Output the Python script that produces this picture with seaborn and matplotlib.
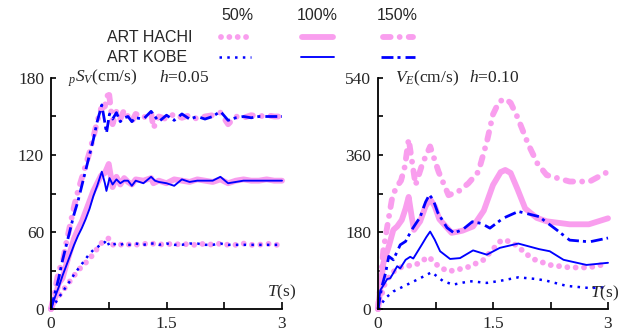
import numpy as np
import pandas as pd
import seaborn as sns
import matplotlib
matplotlib.use("Agg")
import matplotlib.pyplot as plt
from matplotlib.lines import Line2D
from matplotlib.ticker import MultipleLocator

# ---------------- data ----------------
# Left panel: pSv (cm/s), h=0.05
T_LK = [0, 0.05, 0.1, 0.15, 0.2, 0.25, 0.3, 0.35, 0.4, 0.45, 0.5, 0.55, 0.6, 0.66, 0.7, 0.72,
        0.76, 0.8, 0.85, 0.9, 0.95, 1.0, 1.05, 1.1, 1.2, 1.3, 1.35, 1.4, 1.5, 1.6, 1.7, 1.8,
        1.9, 2.0, 2.1, 2.2, 2.3, 2.4, 2.5, 2.6, 2.7, 2.8, 2.9, 3.0]
SV_KOBE_150 = [0, 12, 24, 38, 50, 62, 74, 84, 96, 108, 120, 132, 146, 159, 145, 137, 152, 148, 153, 146,
               149, 150, 146, 149, 148, 154, 150, 146, 151, 147, 152, 148, 150, 148, 150, 154, 147, 149,
               150, 149, 150, 150, 150, 150]
SV_KOBE_100 = [0, 9, 17, 26, 34, 42, 50, 57, 63, 70, 78, 88, 96, 107, 98, 92, 102, 97, 101, 98,
               100, 100, 96, 100, 98, 103, 100, 99, 98, 96, 101, 99, 100, 100, 100, 103, 98, 99,
               100, 100, 100, 100, 100, 100]
SV_KOBE_50 = [0, 4, 9, 13, 18, 22, 27, 31, 35, 39, 43, 46, 48, 51, 52, 54, 49, 50, 51, 50,
              51, 50, 50, 51, 50, 51, 51, 50, 51, 50, 50, 51, 51, 50, 50, 51, 50, 50,
              50, 50, 50, 50, 50, 50]

T_LH = [0, 0.05, 0.1, 0.15, 0.2, 0.25, 0.3, 0.35, 0.4, 0.45, 0.5, 0.55, 0.6, 0.65, 0.7, 0.75,
        0.8, 0.85, 0.9, 0.95, 1.0, 1.05, 1.1, 1.2, 1.3, 1.33, 1.4, 1.5, 1.6, 1.7, 1.8, 1.9,
        2.0, 2.1, 2.2, 2.3, 2.4, 2.5, 2.6, 2.7, 2.8, 2.9, 3.0]
SV_HACHI_150 = [0, 14, 30, 36, 52, 66, 80, 92, 102, 112, 122, 134, 146, 156, 158, 170, 144, 154, 148, 155,
                150, 146, 152, 149, 153, 141, 150, 148, 152, 149, 151, 148, 150, 151, 153, 144, 150, 149,
                151, 150, 151, 150, 150]
SV_HACHI_100 = [0, 8, 20, 24, 35, 45, 55, 62, 68, 76, 84, 92, 98, 104, 106, 113, 95, 103, 97, 102,
                99, 97, 101, 100, 102, 98, 100, 98, 101, 100, 99, 101, 100, 99, 101, 98, 100, 101,
                100, 100, 101, 100, 100]
SV_HACHI_50 = [0, 6, 10, 14, 18, 22, 26, 30, 33, 36, 39, 43, 47, 51, 54, 55, 50, 51, 50, 51,
               50, 51, 50, 51, 50, 51, 50, 51, 50, 51, 50, 50, 51, 50, 51, 50, 50, 51,
               50, 50, 51, 50, 50]

# Right panel: VE (cm/s), h=0.10
T_RK150 = [0, 0.05, 0.1, 0.14, 0.2, 0.29, 0.36, 0.44, 0.55, 0.62, 0.67, 0.72, 0.78, 0.9, 0.99, 1.1,
           1.23, 1.35, 1.46, 1.63, 1.83, 2.1, 2.33, 2.5, 2.76, 3.0]
VE_KOBE_150 = [0, 52, 85, 123, 115, 150, 158, 185, 215, 250, 267, 255, 225, 190, 178, 185,
               204, 200, 189, 212, 228, 216, 185, 161, 157, 166]
T_RK100 = [0, 0.03, 0.08, 0.12, 0.16, 0.2, 0.25, 0.29, 0.36, 0.42, 0.46, 0.57, 0.63, 0.68, 0.74,
           0.81, 0.94, 1.07, 1.24, 1.42, 1.59, 1.83, 2.1, 2.24, 2.42, 2.72, 3.0]
VE_KOBE_100 = [0, 44, 58, 70, 72, 84, 100, 95, 115, 122, 118, 150, 168, 181, 162,
               135, 117, 119, 137, 127, 143, 153, 140, 135, 115, 103, 108]
T_RK50 = [0, 0.1, 0.2, 0.38, 0.55, 0.7, 0.85, 0.98, 1.2, 1.42, 1.6, 1.83, 2.07, 2.2, 2.46, 2.76, 3.0]
VE_KOBE_50 = [0, 26, 41, 57, 72, 86, 65, 57, 65, 61, 66, 74, 70, 66, 54, 49, 51]

T_RH150 = [0, 0.07, 0.12, 0.18, 0.23, 0.3, 0.35, 0.4, 0.49, 0.58, 0.68, 0.79, 0.92, 1.05, 1.18,
           1.31, 1.42, 1.5, 1.58, 1.66, 1.73, 1.82, 1.96, 2.08, 2.2, 2.5, 2.76, 3.0]
VE_HACHI_150 = [0, 138, 192, 255, 282, 300, 333, 397, 290, 340, 380, 321, 266, 275, 294,
                321, 391, 455, 485, 491, 482, 448, 385, 340, 313, 298, 298, 321]
T_RH100 = [0, 0.07, 0.14, 0.2, 0.25, 0.31, 0.36, 0.4, 0.44, 0.47, 0.55, 0.62, 0.68, 0.74, 0.8, 0.96,
           1.1, 1.24, 1.38, 1.5, 1.6, 1.66, 1.73, 1.82, 1.92, 2.07, 2.2, 2.5, 2.75, 3.0]
VE_HACHI_100 = [0, 107, 146, 185, 193, 208, 235, 262, 215, 185, 205, 240, 257, 240, 210, 178,
                183, 193, 230, 290, 320, 325, 318, 280, 235, 213, 205, 198, 198, 212]
T_RH50 = [0, 0.08, 0.16, 0.25, 0.35, 0.49, 0.66, 0.8, 0.92, 1.01, 1.16, 1.37, 1.5, 1.61, 1.72,
          1.83, 1.92, 2.05, 2.24, 2.5, 2.75, 3.0]
VE_HACHI_50 = [0, 55, 80, 95, 100, 103, 122, 98, 88, 91, 97, 114, 140, 161, 158,
               146, 130, 115, 103, 97, 97, 106]

levels = ["50%", "100%", "150%"]
series_names = ["ART HACHI", "ART KOBE"]
x_ticks = [0, 1.5, 3]
left_yticks = [0, 60, 120, 180]
right_yticks = [0, 180, 360, 540]

# ---------------- style ----------------
sns.set_style("ticks")
plt.rcParams["font.family"] = ["Liberation Serif", "DejaVu Serif"]
plt.rcParams["mathtext.fontset"] = "custom"
plt.rcParams["mathtext.rm"] = "Liberation Serif"
plt.rcParams["mathtext.it"] = "Liberation Serif:italic"
plt.rcParams["lines.scale_dashes"] = False

PINK = "#F99EEE"
BLUE = "#0000FF"
PLW = 4.2
pink_styles = {
    "50%": dict(linestyle=(0, (0.01, 6.0)), dash_capstyle="round", linewidth=PLW),
    "100%": dict(linestyle="-", solid_capstyle="round", linewidth=PLW),
    "150%": dict(linestyle=(0, (5.5, 6.5, 0.01, 6.5)), dash_capstyle="round", linewidth=PLW),
}
blue_styles = {
    "50%": dict(linestyle=(0, (1.8, 3.8)), linewidth=1.8),
    "100%": dict(linestyle="-", linewidth=1.35),
    "150%": dict(linestyle=(0, (8.6, 2.9, 2.2, 3.6)), linewidth=2.0),
}

fig = plt.figure(figsize=(6.21, 3.32), dpi=100)
axL = fig.add_axes([51 / 621, 23 / 332, 231 / 621, 231 / 332])
axR = fig.add_axes([378 / 621, 23 / 332, 230 / 621, 231 / 332])


def draw(ax, x, y, color, style):
    sns.lineplot(x=x, y=y, ax=ax, color=color, estimator=None,
                 sort=False, clip_on=False, **style)


# left panel
for lev, vals in zip(levels, [SV_HACHI_50, SV_HACHI_100, SV_HACHI_150]):
    draw(axL, T_LH, vals, PINK, pink_styles[lev])
for lev, vals in zip(levels, [SV_KOBE_50, SV_KOBE_100, SV_KOBE_150]):
    draw(axL, T_LK, vals, BLUE, blue_styles[lev])

# right panel
for lev, t, vals in zip(levels, [T_RH50, T_RH100, T_RH150], [VE_HACHI_50, VE_HACHI_100, VE_HACHI_150]):
    draw(axR, t, vals, PINK, pink_styles[lev])
for lev, t, vals in zip(levels, [T_RK50, T_RK100, T_RK150], [VE_KOBE_50, VE_KOBE_100, VE_KOBE_150]):
    draw(axR, t, vals, BLUE, blue_styles[lev])

for ax, yt in [(axL, left_yticks), (axR, right_yticks)]:
    ax.set_xlim(0, 3)
    ax.set_ylim(0, yt[-1])
    ax.set_xticks(x_ticks)
    ax.set_xticklabels(["0", "1.5", "3"])
    ax.set_yticks(yt)
    ax.set_yticklabels([str(v) for v in yt])
    ax.xaxis.set_minor_locator(MultipleLocator(0.75))
    ax.yaxis.set_minor_locator(MultipleLocator(yt[1] / 2))
    ax.tick_params(axis="x", which="both", direction="in", length=5, width=1.2,
                   labelsize=12.5, pad=5, color="black")
    ax.tick_params(axis="y", which="both", direction="in", length=3.5, width=1.2,
                   labelsize=12.5, pad=5, color="black")
    for s in ["top", "right"]:
        ax.spines[s].set_visible(False)
    for s in ["left", "bottom"]:
        ax.spines[s].set_linewidth(1.3)
        ax.spines[s].set_color("black")
    ax.set_xlabel("")
    ax.set_ylabel("")
    ax.patch.set_alpha(0)

axL.text(0.22, 180, r"${}_{p}S_{V}$(cm/s)", fontsize=12.5, va="center", ha="left")
axL.text(1.40, 180, r"$h$=0.05", fontsize=12.5, va="center", ha="left")
axL.text(2.99, 13, r"$T$(s)", fontsize=12.5, va="center", ha="center")
axR.text(0.22, 540, r"$V_{E}$(cm/s)", fontsize=12.5, va="center", ha="left")
axR.text(1.19, 540, r"$h$=0.10", fontsize=12.5, va="center", ha="left")
axR.text(2.95, 37, r"$T$(s)", fontsize=12.5, va="center", ha="center")

# ---------------- legend (manual) ----------------
W, H = 621, 332
sans = ["Liberation Sans", "DejaVu Sans"]
for lev, xc in zip(levels, [237, 317, 397]):
    fig.text(xc / W, 1 - 16 / H, lev, family=sans, fontsize=11.5, ha="center", va="center")
for name, yc in zip(series_names, [37, 57]):
    fig.text(107 / W, 1 - yc / H, name, family=sans, fontsize=11.5, ha="left", va="center")
for lev, (x0, x1) in zip(levels, [(221, 253), (302, 333), (383, 413)]):
    fig.add_artist(Line2D([x0 / W, x1 / W], [1 - 37 / H, 1 - 37 / H], transform=fig.transFigure,
                          color=PINK, **pink_styles[lev]))
for lev, (x0, x1) in zip(levels, [(219, 251), (301, 334), (381, 415)]):
    fig.add_artist(Line2D([x0 / W, x1 / W], [1 - 57 / H, 1 - 57 / H], transform=fig.transFigure,
                          color=BLUE, **blue_styles[lev]))

fig.savefig("out.png", dpi=100)
